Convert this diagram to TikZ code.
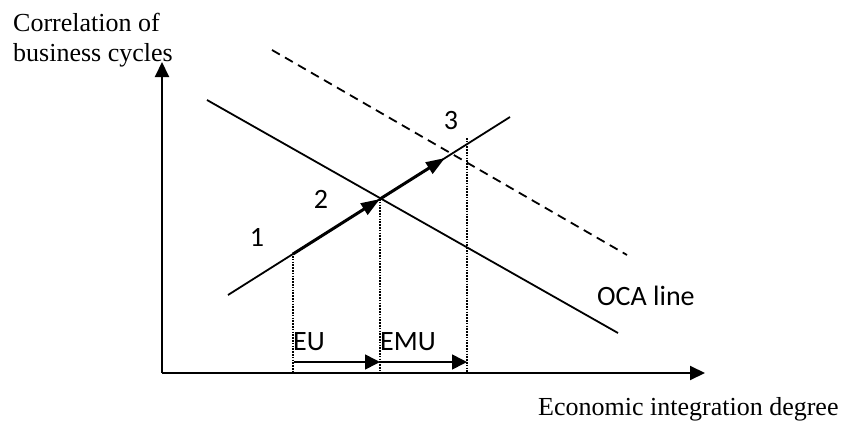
\documentclass[tikz,border=0pt]{standalone}
\usepackage{fontspec}
\setmainfont{Liberation Serif}
\newfontfamily\calfont{Carlito}
\usetikzlibrary{arrows.meta}
\begin{document}
\begin{tikzpicture}[x=1pt,y=-1pt,
  axis/.style={line width=2pt,-{Triangle[length=15pt,width=14pt]}},
  curve/.style={line width=1.8pt},
  dashcurve/.style={line width=1.8pt,dash pattern=on 9pt off 6pt},
  guide/.style={line width=1.7pt,dash pattern=on 1.5pt off 1.3pt},
  movearrow/.style={line width=3pt,-{Triangle[length=19pt,width=13pt]}},
  steparrow/.style={line width=1.6pt,-{Triangle[length=15pt,width=15pt]}},
  serif/.style={inner sep=0pt,font=\fontsize{26}{30}\selectfont},
  cal/.style={inner sep=0pt,font=\calfont\fontsize{28}{32}\selectfont}]
\useasboundingbox (0,0) rectangle (841,423);
% axes
\coordinate (O) at (162,373);
\coordinate (ytip) at (162,62);
\coordinate (xtip) at (705,373);
\draw[axis] (O) -- (ytip);
\draw[axis] (O) -- (xtip);
% lines
\coordinate (ocaA) at (207,100);
\coordinate (ocaB) at (618,333);
\coordinate (dashA) at (272,50);
\coordinate (dashB) at (627,255);
\coordinate (riseA) at (228,295);
\coordinate (riseB) at (510,117);
\coordinate (p1) at (293,254);
\coordinate (p2) at (380,199);
\coordinate (p3) at (445,158);
\draw[curve] (ocaA) -- (ocaB);
\draw[dashcurve] (dashA) -- (dashB);
\draw[curve] (riseA) -- (riseB);
\draw[movearrow] (p1) -- (p2);
\draw[movearrow] (p2) -- (p3);
% guides
\coordinate (g1t) at (293,256);
\coordinate (g1b) at (293,373);
\coordinate (g2t) at (380,199);
\coordinate (g2b) at (380,373);
\coordinate (g3t) at (467,138);
\coordinate (g3b) at (467,373);
\draw[guide] (g1t) -- (g1b);
\draw[guide] (g2t) -- (g2b);
\draw[guide] (g3t) -- (g3b);
% EU / EMU arrows
\coordinate (a1) at (294,362);
\coordinate (a2) at (380,362);
\coordinate (a3) at (381,362);
\coordinate (a4) at (467,362);
\draw[steparrow] (a1) -- (a2);
\draw[steparrow] (a3) -- (a4);
% labels
\node[serif,anchor=base west] (ylab1) at (13,31) {Correlation of};
\node[serif,anchor=base west] (ylab2) at (13,61) {business cycles};
\node[serif,anchor=base west] (xlab) at (538,415) {Economic integration degree};
\node[cal,anchor=base west] (oca) at (597,305) {OCA line};
\node[cal,anchor=base] (n1) at (257,246) {1};
\node[cal,anchor=base] (n2) at (321,208) {2};
\node[cal,anchor=base] (n3) at (451,129) {3};
\node[cal,anchor=base west] (eu) at (293,350) {EU};
\node[cal,anchor=base west] (emu) at (380,350) {EMU};
\end{tikzpicture}
\end{document}
